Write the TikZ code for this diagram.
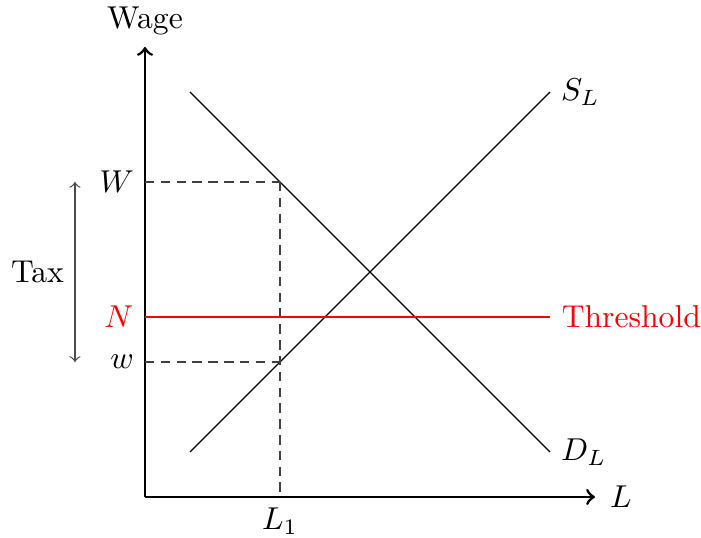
\documentclass[tikz,border=0pt]{standalone}
\begin{document}
\begin{tikzpicture}[x=0.5cm,y=0.5cm,
  axis/.style={line width=0.9pt,->},
  curve/.style={thin},
  guide/.style={thin,black!75,dash pattern=on 3pt off 2pt},
  thresh/.style={thick,red}]
\useasboundingbox (-3.222,-0.911) rectangle (12.356,11.044);
\coordinate (O) at (0,0);
\coordinate (Xe) at (10,0);
\coordinate (Ye) at (0,10);
\draw[axis] (O) -- (Xe) node[right,xshift=1pt] (xl) {$L$};
\draw[axis] (O) -- (Ye) node[above] (yl) {Wage};
\coordinate (s1) at (1,1);
\coordinate (s2) at (9,9);
\coordinate (d1) at (1,9);
\coordinate (d2) at (9,1);
\draw[curve] (s1) -- (s2) node[right] (sl) {$S_L$};
\draw[curve] (d1) -- (d2) node[right] (dl) {$D_L$};
\coordinate (Wy) at (0,7);
\coordinate (WP) at (3,7);
\coordinate (wy) at (0,3);
\coordinate (L1) at (3,0);
\draw[guide] (Wy) node[left,black] (Wl) {$W$} -- (WP);
\draw[guide] (wy) node[left,black] (wl) {$w$} -- (3,3);
\draw[guide] (WP) -- (L1) node[below,black] (L1l) {$L_1$};
\coordinate (N0) at (0,4);
\coordinate (N1) at (9,4);
\draw[thresh] (N0) node[left,red] (Nl) {$N$} -- (N1) node[right,red] (tl) {Threshold};
\coordinate (t1) at (-1.556,7);
\coordinate (t2) at (-1.556,3);
\draw[<->,black!70,thin] (t1) -- (t2) node[midway,left,black] (tax) {Tax};
\end{tikzpicture}
\end{document}
